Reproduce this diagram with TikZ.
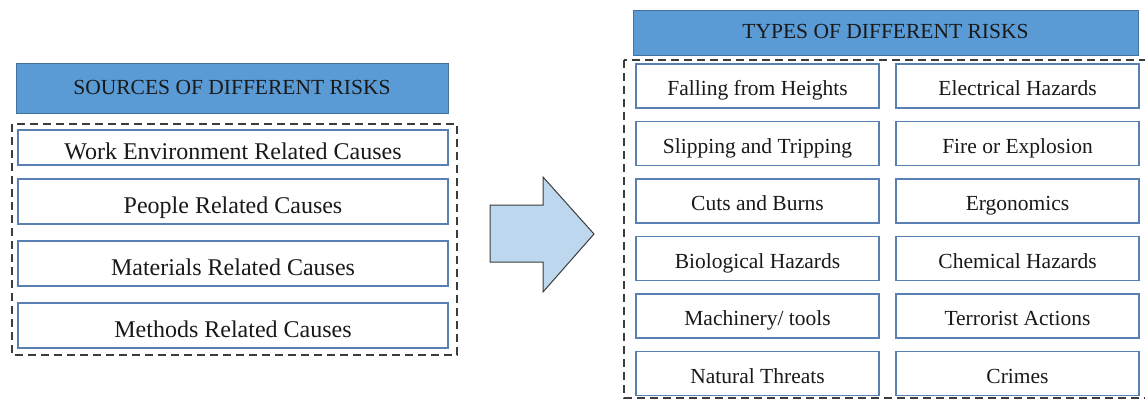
\documentclass[tikz,border=0pt]{standalone}
\usepackage{fontspec}
\setmainfont{Liberation Serif}
\usetikzlibrary{positioning}
\definecolor{kopfblau}{RGB}{91,155,213}
\definecolor{kopfrand}{RGB}{65,113,156}
\definecolor{boxrand}{RGB}{88,128,178}
\definecolor{pfeilblau}{RGB}{189,215,238}
\definecolor{dunkel}{RGB}{60,60,60}
\tikzset{
    % header bars
    kopf/.style={
           rectangle,
           draw=kopfrand, line width=1pt,
           fill=kopfblau,
           text=black!90,
           anchor=north west,
           outer sep=0pt,
           text height=15pt, text depth=3pt,
           font=\fontsize{21.5}{24}\selectfont,
           text centered},
    % boxes of the left list
    ursache/.style={
           rectangle,
           draw=boxrand, line width=1.5pt,
           fill=white,
           text=black!90,
           minimum width=430pt,
           minimum height=45pt,
           inner sep=2pt, outer sep=0pt,
           text height=24pt, text depth=0pt,
           font=\fontsize{24}{27}\selectfont,
           text centered},
    % boxes of the right list
    risiko/.style={
           rectangle,
           draw=boxrand, line width=1.5pt,
           fill=white,
           text=black!90,
           minimum width=243pt,
           minimum height=44pt,
           inner sep=2pt, outer sep=0pt,
           text height=19pt, text depth=0pt,
           font=\fontsize{21.5}{24}\selectfont,
           text centered},
    % dashed frames
    rahmen/.style={
           draw=dunkel,
           line width=2.5pt,
           dash pattern=on 8pt off 5pt},
    % block arrow
    pfeil/.style={
           draw=dunkel,
           line width=1pt,
           fill=pfeilblau,
           line join=miter}
}

\begin{document}
\begin{tikzpicture}[x=1pt, y=-1pt, node distance=17pt]
\useasboundingbox (0,0) rectangle (1145,399);

% sources
\node[kopf, minimum width=432pt, minimum height=50pt] (kopf1) at (16,63) {SOURCES OF DIFFERENT RISKS};
\draw[rahmen] (12,124) rectangle (457,355);
\node[ursache, minimum height=35pt, anchor=north west] (work) at (18,130) {Work Environment Related Causes};
\node[ursache] (people) [below = 14pt of work] {People Related Causes};
\node[ursache] (material) [below = of people] {Materials Related Causes};
\node[ursache] (methods) [below = of material] {Methods Related Causes};

% arrow between the lists
\draw[pfeil] (490,205) -- (543,205) -- (543,177) -- (594,234) -- (543,292) -- (543,262) -- (490,262) -- cycle;

% types
\node[kopf, minimum width=505pt, minimum height=45pt] (kopf2) at (633,10) {TYPES OF DIFFERENT RISKS};
\draw[rahmen] (624,60) rectangle (1152,398);
\node[risiko, anchor=north west] (fall) at (636,64) {Falling from Heights};
\node[risiko] (elec) [right = 17pt of fall] {Electrical Hazards};
\node[risiko] (slip) [below = 13.5pt of fall] {Slipping and Tripping};
\node[risiko] (fire) [right = 17pt of slip] {Fire or Explosion};
\node[risiko] (cuts) [below = 13.5pt of slip] {Cuts and Burns};
\node[risiko] (ergo) [right = 17pt of cuts] {Ergonomics};
\node[risiko] (bio) [below = 13.5pt of cuts] {Biological Hazards};
\node[risiko] (chem) [right = 17pt of bio] {Chemical Hazards};
\node[risiko] (mach) [below = 13.5pt of bio] {Machinery/ tools};
\node[risiko] (terror) [right = 17pt of mach] {Terrorist Actions};
\node[risiko] (nature) [below = 13.5pt of mach] {Natural Threats};
\node[risiko] (crime) [right = 17pt of nature] {Crimes};

\end{tikzpicture}
\end{document}
